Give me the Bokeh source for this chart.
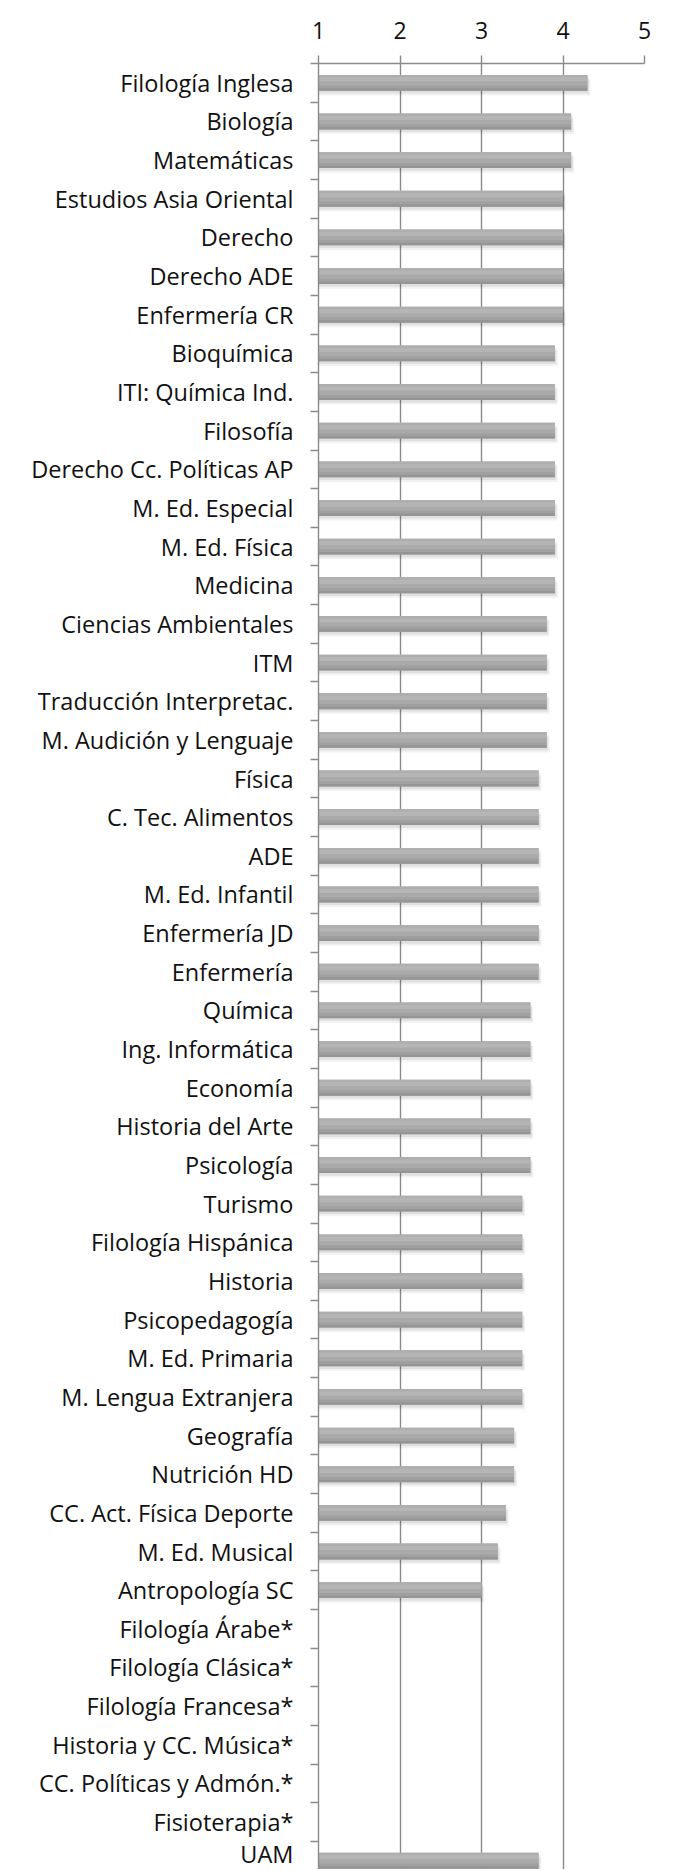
from bokeh.plotting import figure
from bokeh.models import Range1d, FixedTicker
from bokeh.embed import file_html
from bokeh.resources import INLINE
import math

categories = [
    "Filología Inglesa", "Biología", "Matemáticas", "Estudios Asia Oriental",
    "Derecho", "Derecho ADE", "Enfermería CR", "Bioquímica", "ITI: Química Ind.",
    "Filosofía", "Derecho Cc. Políticas AP", "M. Ed. Especial", "M. Ed. Física",
    "Medicina", "Ciencias Ambientales", "ITM", "Traducción Interpretac.",
    "M. Audición y Lenguaje", "Física", "C. Tec. Alimentos", "ADE",
    "M. Ed. Infantil", "Enfermería JD", "Enfermería", "Química",
    "Ing. Informática", "Economía", "Historia del Arte", "Psicología", "Turismo",
    "Filología Hispánica", "Historia", "Psicopedagogía", "M. Ed. Primaria",
    "M. Lengua Extranjera", "Geografía", "Nutrición HD",
    "CC. Act. Física Deporte", "M. Ed. Musical", "Antropología SC",
    "Filología Árabe*", "Filología Clásica*", "Filología Francesa*",
    "Historia y CC. Música*", "CC. Políticas y Admón.*", "Fisioterapia*", "UAM",
]
nan = float("nan")
values = [
    4.3, 4.1, 4.1, 4.0, 4.0, 4.0, 4.0, 3.9, 3.9, 3.9, 3.9, 3.9, 3.9, 3.9,
    3.8, 3.8, 3.8, 3.8, 3.7, 3.7, 3.7, 3.7, 3.7, 3.7, 3.6, 3.6, 3.6, 3.6, 3.6,
    3.5, 3.5, 3.5, 3.5, 3.5, 3.5, 3.4, 3.4, 3.3, 3.2, 3.0,
    nan, nan, nan, nan, nan, nan, 3.7,
]
x_ticks = [1, 2, 3, 4, 5]

N = len(categories)
ys = [N - 1 - i for i in range(N)]          # category centres (top first)
bounds = [N - 0.5 - k for k in range(N + 1)]  # category boundaries

band_px = 38.65
frame_h = 1806
y_start = (N - 0.5) - frame_h / band_px

FONT = "Open Sans"
GRID = "#8a8a8a"

p = figure(
    output_backend="svg", toolbar_location=None,
    x_axis_location="above",
    frame_width=326, frame_height=frame_h,
    min_border_left=318, min_border_right=29,
    min_border_top=63, min_border_bottom=0,
    x_range=Range1d(1, 5), y_range=Range1d(y_start, N - 0.5),
)
p.outline_line_color = None
p.background_fill_color = "white"
p.border_fill_color = "white"

# x axis (top)
xa = p.xaxis[0]
xa.ticker = FixedTicker(ticks=x_ticks)
xa.axis_line_color = GRID
xa.axis_line_width = 1.4
xa.major_tick_line_color = GRID
xa.major_tick_line_width = 1.4
xa.major_tick_out = 8
xa.major_tick_in = 0
xa.minor_tick_line_color = None
xa.major_label_text_font = FONT
xa.major_label_text_font_size = "23px"
xa.major_label_text_color = "#111111"
xa.major_label_standoff = 17

# y axis (left)
ya = p.yaxis[0]
ya.ticker = FixedTicker(ticks=ys, minor_ticks=bounds)
ya.major_label_overrides = {y: c for y, c in zip(ys, categories)}
ya.axis_line_color = GRID
ya.axis_line_width = 1.4
ya.major_tick_line_color = None
ya.major_tick_out = 0
ya.major_tick_in = 0
ya.minor_tick_line_color = GRID
ya.minor_tick_line_width = 1.4
ya.minor_tick_out = 8
ya.minor_tick_in = 0
ya.major_label_text_font = FONT
ya.major_label_text_font_size = "23.5px"
ya.major_label_text_color = "#111111"
ya.major_label_standoff = 17

p.xgrid.ticker = FixedTicker(ticks=x_ticks)
p.xgrid.grid_line_color = GRID
p.xgrid.grid_line_width = 1.4
p.ygrid.grid_line_color = None

# bars: soft shadow + shaded bar
bar_h = 0.41
valid = [not math.isnan(v) for v in values]
for dy, dx, a in [(0.12, 0.035, 0.05), (0.07, 0.02, 0.07)]:
    p.hbar(y=[y - dy for y in ys], left=1,
           right=[v + dx if ok else nan for v, ok in zip(values, valid)],
           height=bar_h, fill_color="#000000", fill_alpha=a, line_color=None)
p.hbar(y=ys, left=1, right=values, height=bar_h,
       fill_color="#a6a6a6", line_color=None)
# gradient strips (top -> bottom)
strips = [(0.43, 0.14, "#aeaeae"), (0.22, 0.28, "#b5b5b5"),
          (-0.05, 0.26, "#aaaaaa"), (-0.25, 0.14, "#9f9f9f"),
          (-0.42, 0.16, "#959595")]
for off, h, col in strips:
    p.hbar(y=[y + bar_h * off for y in ys], left=1, right=values,
           height=bar_h * h, fill_color=col, line_color=None)

open("out.html", "w").write(file_html(p, INLINE))
